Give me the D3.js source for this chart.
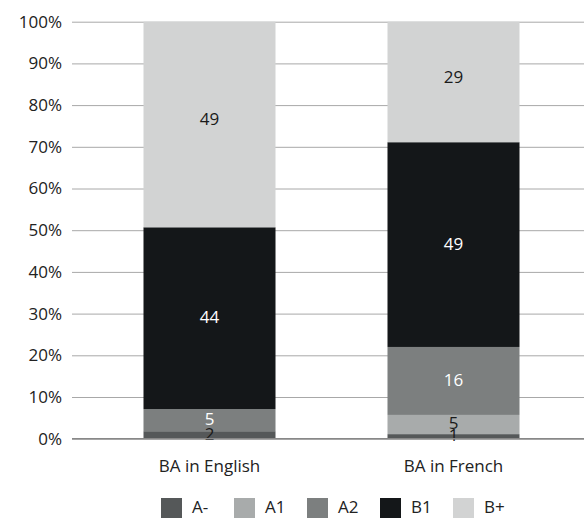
<head>
	<style>
		body { margin: 0; background: #ffffff; }
		text { font-family: "Open Sans", sans-serif; }
	</style>
</head>
<body>

	<svg height="518" width="584"></svg> <!--screen-->

	<script src="https://d3js.org/d3.v7.min.js" charset="utf-8"></script>
	<script>

		var categories = ["BA in English", "BA in French"];
		var levels = ["A-", "A1", "A2", "B1", "B+"];
		var english = [1.8, 0, 5.3, 43.6, 49.3];
		var french = [1.1, 4.6, 16.3, 49.1, 28.9];
		var yTicks = [0, 10, 20, 30, 40, 50, 60, 70, 80, 90, 100];

		var colorTable = {
			"A-": "#555859",
			"A1": "#a8abab",
			"A2": "#7c7f7f",
			"B1": "#141719",
			"B+": "#d2d3d3"
		};
		var labelColor = {
			"A-": "#1a1a1a",
			"A1": "#1a1a1a",
			"A2": "#ffffff",
			"B1": "#ffffff",
			"B+": "#1a1a1a"
		};

		var svg = d3.select("svg");
		var plotL = 72, plotR = 584, plotT = 21.7, plotB = 438.7;
		var fs = "17px";

		var x = d3.scaleBand().domain(categories).range([87.5, 575.5]).paddingInner(0.459).paddingOuter(0.2295);
		var y = d3.scaleLinear().domain([0, 100]).range([plotB, plotT]);

		// gridlines + y labels
		var yAxis = svg.append("g")
			.attr("transform", "translate(" + plotL + ",0)")
			.call(d3.axisLeft(y).tickValues(yTicks).tickSize(-(plotR - plotL)).tickPadding(10).tickFormat(function(d){ return d + "%"; }));
		yAxis.select(".domain").remove();
		yAxis.selectAll("line").attr("stroke", "#a8a8a8").attr("stroke-width", 1);
		yAxis.selectAll("text").style("font-size", fs).attr("fill", "#222");

		// stack
		var rows = categories.map(function(c, i){
			var vals = i == 0 ? english : french;
			var r = { cat: c };
			levels.forEach(function(l, j){ r[l] = vals[j]; });
			return r;
		});
		var series = d3.stack().keys(levels)(rows);

		var g = svg.append("g");
		series.forEach(function(s){
			s.forEach(function(d){
				if(d[1] - d[0] <= 0) return;
				g.append("rect")
					.attr("x", x(d.data.cat))
					.attr("width", x.bandwidth())
					.attr("y", y(d[1]))
					.attr("height", y(d[0]) - y(d[1]))
					.attr("fill", colorTable[s.key]);
			});
		});
		series.forEach(function(s){
			s.forEach(function(d){
				if(d[1] - d[0] <= 0) return;
				var shift = s.key == "B+" ? -5 : -1;
				g.append("text")
					.attr("x", x(d.data.cat) + x.bandwidth() / 2)
					.attr("y", (y(d[0]) + y(d[1])) / 2 + shift)
					.attr("dy", "0.35em")
					.attr("text-anchor", "middle")
					.style("font-size", fs)
					.attr("fill", labelColor[s.key])
					.text(Math.round(d[1] - d[0]));
			});
		});

		// baseline
		svg.append("line")
			.attr("x1", plotL).attr("x2", plotR)
			.attr("y1", y(0)).attr("y2", y(0))
			.attr("stroke", "#888").attr("stroke-width", 1.6);

		// x labels
		var xAxis = svg.append("g")
			.attr("transform", "translate(0," + y(0) + ")")
			.call(d3.axisBottom(x).tickSize(0).tickPadding(21));
		xAxis.select(".domain").remove();
		xAxis.selectAll("text").style("font-size", fs).attr("fill", "#222");

		// legend
		levels.forEach(function(l, i){
			var lx = 161 + i * 73;
			svg.append("rect").attr("x", lx).attr("y", 498).attr("width", 21).attr("height", 20).attr("fill", colorTable[l]);
			svg.append("text").attr("x", lx + 31).attr("y", 513)
				.style("font-size", fs).attr("fill", "#222").text(l);
		});
	</script>
</body>
